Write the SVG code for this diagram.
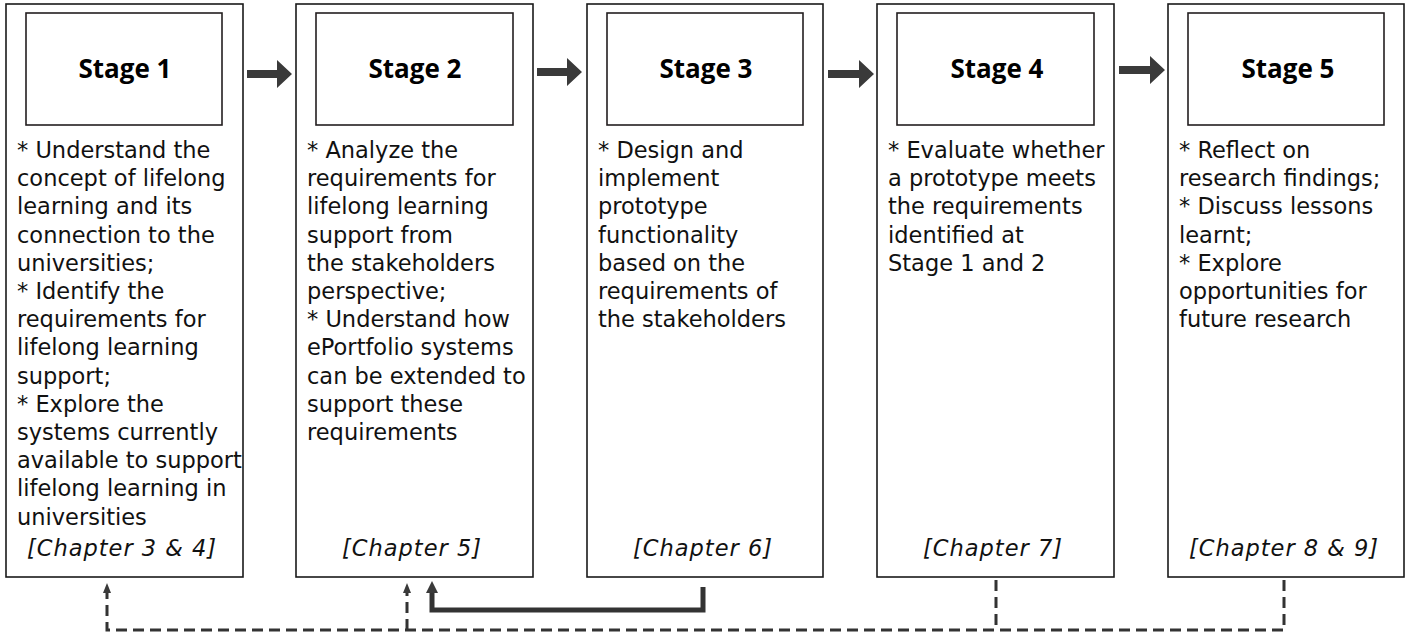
<svg xmlns="http://www.w3.org/2000/svg" width="1410" height="639" viewBox="0 0 1410 639">
<defs>
<style>
.outer{fill:#fff;stroke:#1a1a1a;stroke-width:1.6}
.inner{fill:#fff;stroke:#231f20;stroke-width:1.6}
.title{font-family:"Open Sans",sans-serif;font-weight:bold;font-size:26px;fill:#000;text-anchor:middle}
.body{font-family:"DejaVu Sans","Bitstream Vera Sans",Verdana,sans-serif;font-size:22.5px;fill:#111}
.chap{font-family:"DejaVu Sans","Bitstream Vera Sans",Verdana,sans-serif;font-size:22.5px;letter-spacing:1px;font-style:italic;fill:#111;text-anchor:middle}
.fat{fill:#3a3a3a}
.solid{fill:none;stroke:#333;stroke-width:5}
.dash{fill:none;stroke:#333;stroke-width:3;stroke-dasharray:11 6}
</style>
</defs>
<rect width="1410" height="639" fill="#fff"/>

<g id="stage1">
<rect class="outer" x="6" y="4" width="237" height="573"/>
<rect class="inner" x="26" y="13" width="196" height="112"/>
<text class="title" x="125" y="78">Stage 1</text>
<text class="body" x="17" y="158">
<tspan x="17" dy="0">* Understand the</tspan>
<tspan x="17" dy="28.2">concept of lifelong</tspan>
<tspan x="17" dy="28.2">learning and its</tspan>
<tspan x="17" dy="28.2">connection to the</tspan>
<tspan x="17" dy="28.2">universities;</tspan>
<tspan x="17" dy="28.2">* Identify the</tspan>
<tspan x="17" dy="28.2">requirements for</tspan>
<tspan x="17" dy="28.2">lifelong learning</tspan>
<tspan x="17" dy="28.2">support;</tspan>
<tspan x="17" dy="28.2">* Explore the</tspan>
<tspan x="17" dy="28.2">systems currently</tspan>
<tspan x="17" dy="28.2">available to support</tspan>
<tspan x="17" dy="28.2">lifelong learning in</tspan>
<tspan x="17" dy="28.2">universities</tspan>
</text>
<text class="chap" x="122" y="556">[Chapter 3 &amp; 4]</text>
</g>

<g id="stage2">
<rect class="outer" x="296" y="4" width="237" height="573"/>
<rect class="inner" x="316" y="13" width="197" height="112"/>
<text class="title" x="415" y="78">Stage 2</text>
<text class="body" x="307" y="158">
<tspan x="307" dy="0">* Analyze the</tspan>
<tspan x="307" dy="28.2">requirements for</tspan>
<tspan x="307" dy="28.2">lifelong learning</tspan>
<tspan x="307" dy="28.2">support from</tspan>
<tspan x="307" dy="28.2">the stakeholders</tspan>
<tspan x="307" dy="28.2">perspective;</tspan>
<tspan x="307" dy="28.2">* Understand how</tspan>
<tspan x="307" dy="28.2">ePortfolio systems</tspan>
<tspan x="307" dy="28.2">can be extended to</tspan>
<tspan x="307" dy="28.2">support these</tspan>
<tspan x="307" dy="28.2">requirements</tspan>
</text>
<text class="chap" x="412" y="556">[Chapter 5]</text>
</g>

<g id="stage3">
<rect class="outer" x="587" y="4" width="236" height="573"/>
<rect class="inner" x="607" y="13" width="196" height="112"/>
<text class="title" x="706" y="78">Stage 3</text>
<text class="body" x="598" y="158">
<tspan x="598" dy="0">* Design and</tspan>
<tspan x="598" dy="28.2">implement</tspan>
<tspan x="598" dy="28.2">prototype</tspan>
<tspan x="598" dy="28.2">functionality</tspan>
<tspan x="598" dy="28.2">based on the</tspan>
<tspan x="598" dy="28.2">requirements of</tspan>
<tspan x="598" dy="28.2">the stakeholders</tspan>
</text>
<text class="chap" x="703" y="556">[Chapter 6]</text>
</g>

<g id="stage4">
<rect class="outer" x="877" y="4" width="237" height="573"/>
<rect class="inner" x="897" y="13" width="197" height="112"/>
<text class="title" x="997" y="78">Stage 4</text>
<text class="body" x="888" y="158">
<tspan x="888" dy="0">* Evaluate whether</tspan>
<tspan x="888" dy="28.2">a prototype meets</tspan>
<tspan x="888" dy="28.2">the requirements</tspan>
<tspan x="888" dy="28.2">identified at</tspan>
<tspan x="888" dy="28.2">Stage 1 and 2</tspan>
</text>
<text class="chap" x="993" y="556">[Chapter 7]</text>
</g>

<g id="stage5">
<rect class="outer" x="1168" y="4" width="236" height="573"/>
<rect class="inner" x="1188" y="13" width="196" height="112"/>
<text class="title" x="1288" y="78">Stage 5</text>
<text class="body" x="1179" y="158">
<tspan x="1179" dy="0">* Reflect on</tspan>
<tspan x="1179" dy="28.2">research findings;</tspan>
<tspan x="1179" dy="28.2">* Discuss lessons</tspan>
<tspan x="1179" dy="28.2">learnt;</tspan>
<tspan x="1179" dy="28.2">* Explore</tspan>
<tspan x="1179" dy="28.2">opportunities for</tspan>
<tspan x="1179" dy="28.2">future research</tspan>
</text>
<text class="chap" x="1284" y="556">[Chapter 8 &amp; 9]</text>
</g>

<g id="connectors">
<path class="fat" d="M247,70h30v-10l15,14l-15,14v-10h-30z"/>
<path class="fat" d="M537,68h30v-10l15,14l-15,14v-10h-30z"/>
<path class="fat" d="M828,70h31v-10l15,14l-15,14v-10h-31z"/>
<path class="fat" d="M1119,66h31v-10l15,14l-15,14v-10h-31z"/>
<path class="solid" d="M703,587V610H432V592"/>
<path class="fat" d="M426,593L432,581L438,593z"/>
<path class="dash" d="M1284,580V630H107V592"/>
<path class="dash" d="M996,580V630"/>
<path class="dash" d="M407,630V592"/>
<path class="fat" d="M103,593L107,583L111,593z"/>
<path class="fat" d="M403,593L407,583L411,593z"/>
</g>
</svg>
